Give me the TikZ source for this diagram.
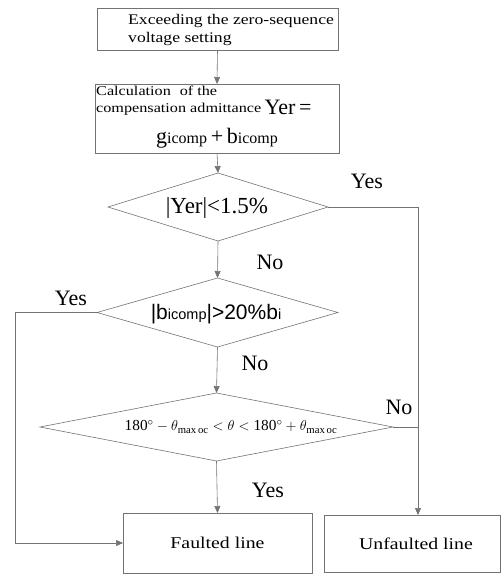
\documentclass[tikz,border=0pt]{standalone}
\usepackage{fontspec}
\setmainfont{Liberation Serif}
\setsansfont{Liberation Sans}
\newfontfamily\widefont[FakeStretch=1.2]{Liberation Serif}
\usetikzlibrary{arrows.meta}
\begin{document}
\begin{tikzpicture}[x=1pt,y=-1pt,
 line/.style={draw=black!55, line width=0.6pt},
 arr/.style={line, -{Triangle[length=7pt,width=6pt]}},
 box/.style={draw=black!55, line width=0.6pt, inner sep=0pt, outer sep=0pt},
 dmd/.style={inner sep=0pt, outer sep=0pt},
 lbl/.style={font=\rmfamily\fontsize{22}{24}\selectfont, inner sep=0pt}]
\useasboundingbox (0,0) rectangle (501,575);
% boxes
\node[box, minimum width=241pt, minimum height=42pt] (b1) at (217.5,29) {};
\node[anchor=west, align=left, inner sep=0pt, font=\widefont\fontsize{14.7}{17.5}\selectfont] (t1) at (128,30) {Exceeding the zero-sequence\\voltage setting};
\node[box, minimum width=244pt, minimum height=69pt] (b2) at (217,118.5) {};
\node[anchor=north west, align=left, inner sep=0pt, font=\widefont\fontsize{13.5}{16.5}\selectfont] (t2a) at (96,86) {Calculation\hspace{9pt}of\hspace{4pt}the\\compensation admittance};
\node[inner sep=0pt, font=\rmfamily\fontsize{22}{24}\selectfont] (t2b) at (288,107) {Yer\,=};
\node[inner sep=0pt, font=\rmfamily\fontsize{22}{24}\selectfont] (t2c) at (217,138) {g{\fontsize{16}{17}\selectfont icomp}\,+\,b{\fontsize{16}{17}\selectfont icomp}};
% diamonds
\node[dmd, minimum width=220pt, minimum height=68pt] (d1) at (218,207) {};
\draw[line] (d1.west) -- (d1.north) -- (d1.east) -- (d1.south) -- cycle;
\node[inner sep=0pt, font=\rmfamily\fontsize{23}{25}\selectfont] (t3) at (217,208) {|Yer|<1.5\%};
\node[dmd, minimum width=241pt, minimum height=69pt] (d2) at (217.5,312.5) {};
\draw[line] (d2.west) -- (d2.north) -- (d2.east) -- (d2.south) -- cycle;
\node[inner sep=0pt, font=\sffamily\fontsize{21}{23}\selectfont] (t4) at (216,314) {|b{\fontsize{14.5}{16}\selectfont icomp}|>20\%b{\fontsize{14.5}{16}\selectfont i}};
\node[dmd, minimum width=353pt, minimum height=68pt] (d3) at (216.5,427) {};
\draw[line] (d3.west) -- (d3.north) -- (d3.east) -- (d3.south) -- cycle;
\node[inner sep=0pt, font=\rmfamily\fontsize{15.3}{18}\selectfont] (t5) at (231,427) {180$^{\circ}-\theta_{\mathrm{max\,oc}}<\theta<{}$180$^{\circ}+\theta_{\mathrm{max\,oc}}$};
% end boxes
\node[box, minimum width=189pt, minimum height=60pt, font=\widefont\fontsize{16.5}{19}\selectfont] (f) at (217.5,543) {Faulted line};
\node[box, minimum width=176pt, minimum height=57pt, font=\widefont\fontsize{16.5}{19}\selectfont] (u) at (412,543.5) {\hspace{8pt}Unfaulted line};
% guide coordinates
\coordinate (rx) at (418,0);
\coordinate (lx) at (15,0);
% connectors
\draw[arr] (b1.south) -- (b2.north);
\draw[arr] (b2.south) -- (d1.north);
\draw[arr] (d1.south) -- (d2.north);
\draw[arr] (d2.south) -- (d3.north);
\draw[arr] (d3.south) -- (f.north);
\draw[arr] (d1.east) -| (rx |- u.north);
\draw[line] (d3.east) -- (d3.east -| rx);
\draw[arr] (d2.west) -| (lx |- f.west) -- (f.west);
% labels
\node[lbl] (y1) at (367,181) {Yes};
\node[lbl] (n1) at (270,262) {No};
\node[lbl] (y2) at (71,298) {Yes};
\node[lbl] (n2) at (255,363) {No};
\node[lbl] (n3) at (399,407) {No};
\node[lbl] (y3) at (268,490) {Yes};
\end{tikzpicture}
\end{document}
